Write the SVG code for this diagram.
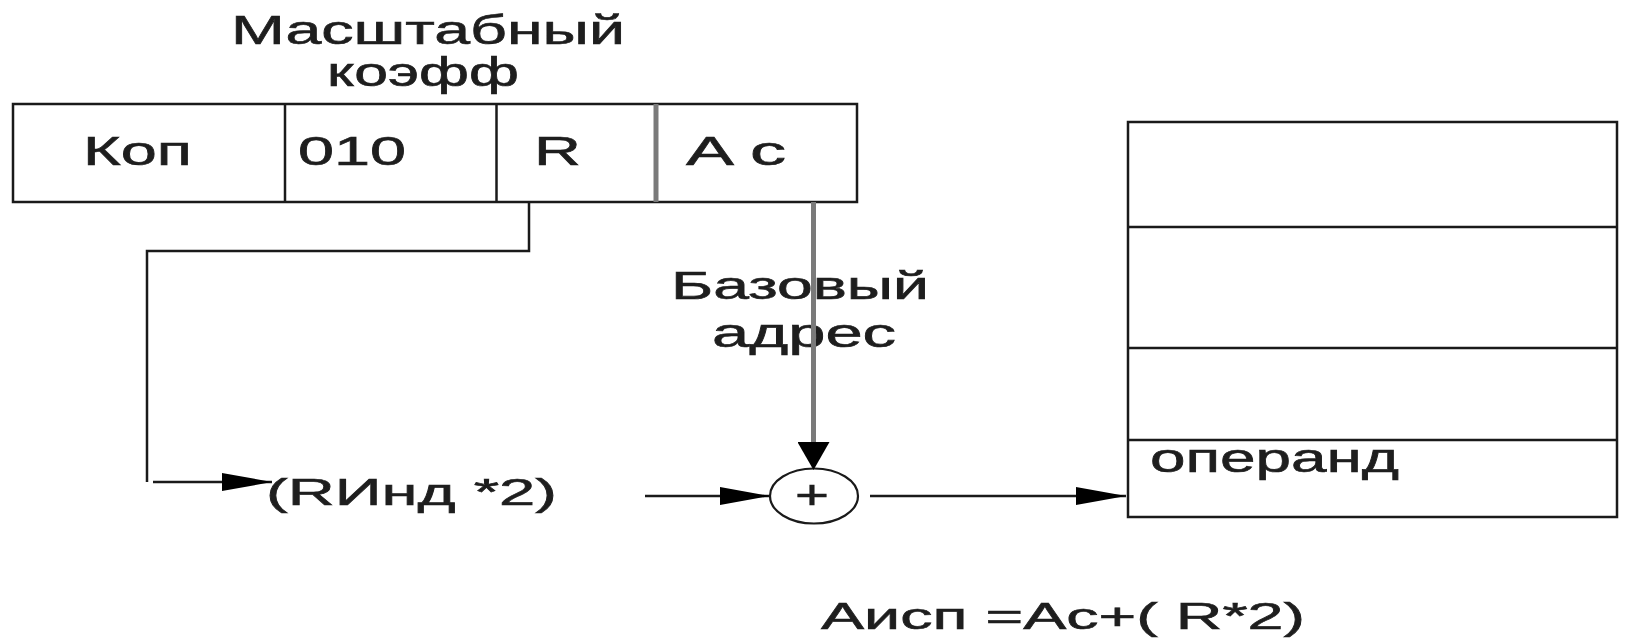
<svg xmlns="http://www.w3.org/2000/svg" width="1625" height="639" viewBox="0 0 1625 639">
  <style>
    .t { font-family: "Liberation Sans", Arial, sans-serif; fill: #1e1e1e; stroke: #1e1e1e; stroke-width: 0.6; }
    .box { fill: #ffffff; stroke: #1a1a1a; stroke-width: 2.5; }
    .ln { fill: none; stroke: #1a1a1a; stroke-width: 2.5; }
    .gray { fill: none; stroke: #7a7a7a; stroke-width: 5; }
    .conn { fill: none; stroke: #1a1a1a; stroke-width: 2.5; }
  </style>
  <defs>
    <marker id="arrH" markerUnits="userSpaceOnUse" viewBox="0 0 50 18" markerWidth="50" markerHeight="18" refX="50" refY="9" orient="auto">
      <path d="M0,0 L50,9 L0,18 z" fill="#000"/>
    </marker>
    <marker id="arrD" markerUnits="userSpaceOnUse" viewBox="0 0 28 32" markerWidth="28" markerHeight="32" refX="28" refY="16" orient="auto">
      <path d="M0,0 L28,16 L0,32 z" fill="#000"/>
    </marker>
  </defs>
  <rect width="1625" height="639" fill="#ffffff"/>

  <g id="label-scale">
    <text class="t" x="231" y="44" font-size="41" textLength="394" lengthAdjust="spacingAndGlyphs">Масштабный</text>
    <text class="t" x="327" y="86" font-size="41" textLength="192" lengthAdjust="spacingAndGlyphs">коэфф</text>
  </g>

  <g id="instruction">
    <rect class="box" x="13" y="104" width="844" height="98"/>
    <line class="ln" x1="285" y1="104" x2="285" y2="202"/>
    <line class="ln" x1="496.5" y1="104" x2="496.5" y2="202"/>
    <line class="gray" x1="656" y1="104" x2="656" y2="202" stroke-width="4"/>
    <text class="t" x="83" y="165" font-size="40" textLength="109" lengthAdjust="spacingAndGlyphs">Коп</text>
    <text class="t" x="298" y="165" font-size="40" textLength="108" lengthAdjust="spacingAndGlyphs">010</text>
    <text class="t" x="534" y="165" font-size="40" textLength="47" lengthAdjust="spacingAndGlyphs">R</text>
    <text class="t" x="686" y="165" font-size="40" textLength="100" lengthAdjust="spacingAndGlyphs">A c</text>
  </g>

  <g id="label-base">
    <text class="t" x="671" y="298.5" font-size="38" textLength="258" lengthAdjust="spacingAndGlyphs">Базовый</text>
    <text class="t" x="712" y="346.5" font-size="40" textLength="184" lengthAdjust="spacingAndGlyphs">адрес</text>
  </g>

  <g id="index-scaled">
    <text class="t" x="266" y="505" font-size="37" textLength="291" lengthAdjust="spacingAndGlyphs">(RИнд *2)</text>
  </g>

  <g id="adder">
    <ellipse cx="814" cy="496" rx="44" ry="27.5" fill="#ffffff" stroke="#1a1a1a" stroke-width="2.2"/>
    <text class="t" x="795" y="508.5" font-size="40" textLength="34" lengthAdjust="spacingAndGlyphs">+</text>
  </g>

  <g id="memory">
    <rect class="box" x="1128" y="122" width="489" height="395" stroke="#2a2a2a"/>
    <line class="ln" x1="1128" y1="227" x2="1617" y2="227" stroke="#2a2a2a"/>
    <line class="ln" x1="1128" y1="348" x2="1617" y2="348" stroke="#2a2a2a"/>
    <line class="ln" x1="1128" y1="440" x2="1617" y2="440" stroke="#2a2a2a"/>
    <text class="t" x="1150" y="471.5" font-size="40" textLength="249" lengthAdjust="spacingAndGlyphs">операнд</text>
  </g>

  <g id="formula">
    <text class="t" x="821" y="629" font-size="37" textLength="484" lengthAdjust="spacingAndGlyphs">Аисп =Ac+( R*2)</text>
  </g>

  <g id="connectors">
    <polyline class="conn" points="529,202 529,251 147,251 147,482"/>
    <line class="conn" x1="153" y1="482" x2="272" y2="482" marker-end="url(#arrH)"/>
    <line class="gray" x1="813.5" y1="202" x2="813.5" y2="446"/>
    <line x1="813.5" y1="440" x2="813.5" y2="470" stroke="none" marker-end="url(#arrD)"/>
    <line class="conn" x1="645" y1="496" x2="770" y2="496" marker-end="url(#arrH)"/>
    <line class="conn" x1="870" y1="496" x2="1126" y2="496" marker-end="url(#arrH)"/>
  </g>
</svg>
